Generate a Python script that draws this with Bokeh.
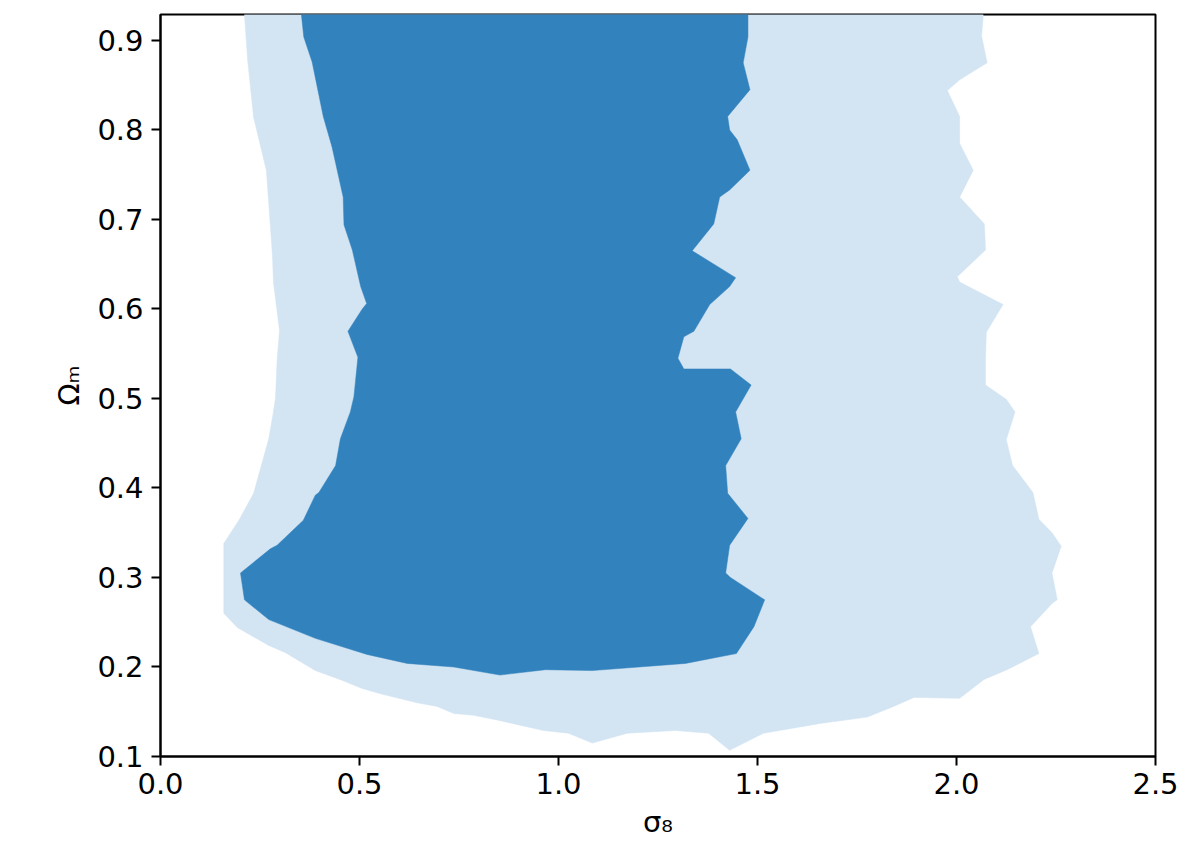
from bokeh.plotting import figure
from bokeh.models import Range1d, FixedTicker, PrintfTickFormatter
from bokeh.embed import file_html
from bokeh.resources import INLINE

# Outer (light, 2-sigma) contour region: sigma_8 vs Omega_m
outer_sigma8 = [0.211, 0.219, 0.234, 0.266, 0.281, 0.284, 0.299, 0.293, 0.289, 0.283,
                0.272, 0.234, 0.197, 0.159, 0.159, 0.193, 0.272, 0.314, 0.389, 0.457,
                0.507, 0.553, 0.645, 0.695, 0.737, 0.787, 0.854, 0.962, 1.025, 1.085,
                1.173, 1.294, 1.377, 1.430, 1.515, 1.658, 1.776, 1.842, 1.893, 2.008,
                2.069, 2.127, 2.207, 2.186, 2.240, 2.253, 2.240, 2.263, 2.240, 2.207,
                2.192, 2.141, 2.125, 2.147, 2.125, 2.073, 2.073, 2.075, 2.117, 2.008,
                2.002, 2.073, 2.070, 2.008, 2.042, 2.008, 2.008, 1.977, 2.008, 2.077,
                2.063, 2.067, 2.067]
outer_omega_m = [0.929, 0.878, 0.814, 0.755, 0.662, 0.629, 0.576, 0.543, 0.501, 0.483,
                 0.455, 0.394, 0.364, 0.338, 0.260, 0.244, 0.224, 0.216, 0.196, 0.185,
                 0.176, 0.170, 0.160, 0.156, 0.148, 0.146, 0.140, 0.129, 0.126, 0.115,
                 0.126, 0.129, 0.126, 0.107, 0.126, 0.137, 0.144, 0.156, 0.166, 0.165,
                 0.186, 0.197, 0.215, 0.245, 0.271, 0.275, 0.305, 0.335, 0.350, 0.365,
                 0.395, 0.425, 0.454, 0.485, 0.499, 0.515, 0.545, 0.574, 0.605, 0.630,
                 0.636, 0.666, 0.695, 0.725, 0.755, 0.785, 0.815, 0.844, 0.856, 0.875,
                 0.905, 0.927, 0.929]

# Inner (dark, 1-sigma) contour region
inner_sigma8 = [0.354, 0.360, 0.381, 0.409, 0.431, 0.459, 0.461, 0.482, 0.503, 0.518,
                0.507, 0.471, 0.496, 0.486, 0.477, 0.452, 0.440, 0.398, 0.389, 0.359,
                0.293, 0.276, 0.201, 0.211, 0.272, 0.389, 0.519, 0.620, 0.737, 0.853,
                0.967, 1.085, 1.319, 1.447, 1.491, 1.518, 1.432, 1.420, 1.430, 1.476,
                1.425, 1.420, 1.459, 1.445, 1.484, 1.432, 1.315, 1.300, 1.315, 1.340,
                1.380, 1.430, 1.445, 1.336, 1.390, 1.405, 1.430, 1.481, 1.449, 1.430,
                1.425, 1.481, 1.464, 1.476, 1.476]
inner_omega_m = [0.929, 0.904, 0.876, 0.815, 0.781, 0.725, 0.694, 0.666, 0.625, 0.606,
                 0.600, 0.575, 0.546, 0.502, 0.485, 0.455, 0.425, 0.395, 0.392, 0.364,
                 0.336, 0.332, 0.305, 0.275, 0.253, 0.232, 0.214, 0.204, 0.200, 0.191,
                 0.197, 0.196, 0.204, 0.215, 0.245, 0.275, 0.300, 0.305, 0.336, 0.366,
                 0.394, 0.425, 0.455, 0.485, 0.515, 0.533, 0.533, 0.545, 0.569, 0.575,
                 0.605, 0.625, 0.635, 0.665, 0.695, 0.725, 0.733, 0.755, 0.789, 0.800,
                 0.815, 0.845, 0.875, 0.904, 0.929]

x_ticks = [0.0, 0.5, 1.0, 1.5, 2.0, 2.5]
y_ticks = [0.1, 0.2, 0.3, 0.4, 0.5, 0.6, 0.7, 0.8, 0.9]

FONT = "DejaVu Sans"
MAIN = "29px"

p = figure(width=1184, height=846, output_backend="svg", toolbar_location=None,
           x_range=Range1d(0.0, 2.5), y_range=Range1d(0.1, 0.929),
           min_border_left=160, min_border_right=29, min_border_top=14,
           min_border_bottom=90)

p.patch(outer_sigma8, outer_omega_m, fill_color="#d3e4f3", line_color="#d3e4f3",
        line_width=0.5)
p.patch(inner_sigma8, inner_omega_m, fill_color="#3282bd", line_color="#3282bd",
        line_width=0.5)

p.xgrid.visible = False
p.ygrid.visible = False
p.background_fill_color = "white"
p.border_fill_color = "white"
p.outline_line_color = "black"
p.outline_line_width = 2
p.outline_line_alpha = 1.0

p.xaxis.ticker = FixedTicker(ticks=x_ticks)
p.yaxis.ticker = FixedTicker(ticks=y_ticks)
p.xaxis.formatter = PrintfTickFormatter(format="%.1f")
p.yaxis.formatter = PrintfTickFormatter(format="%.1f")

p.xaxis.axis_label = "σ₈"
p.yaxis.axis_label = "Ωₘ"

for ax in (p.xaxis, p.yaxis):
    ax.axis_line_width = 2
    ax.axis_line_color = "black"
    ax.major_tick_line_width = 2
    ax.major_tick_line_color = "black"
    ax.major_tick_out = 9
    ax.major_tick_in = 0
    ax.minor_tick_line_color = None
    ax.major_label_text_font = FONT
    ax.major_label_text_font_size = MAIN
    ax.major_label_text_color = "black"
    ax.axis_label_text_font = FONT
    ax.axis_label_text_font_size = MAIN
    ax.axis_label_text_font_style = "normal"
    ax.axis_label_text_color = "black"

p.xaxis.major_label_standoff = 7
p.xaxis.axis_label_standoff = 8
p.yaxis.major_label_standoff = 8
p.yaxis.axis_label_standoff = 8

open("out.html", "w").write(file_html(p, INLINE))
